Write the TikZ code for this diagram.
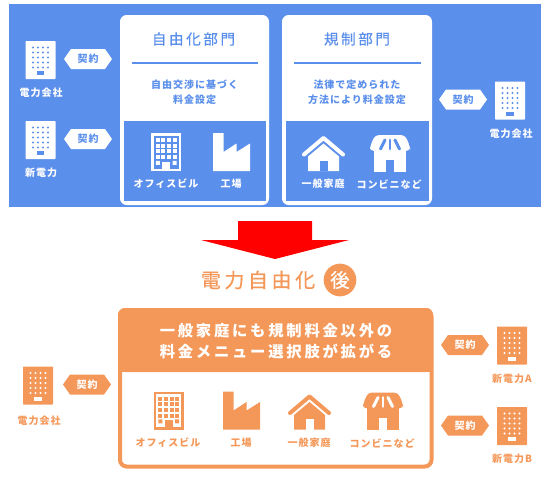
\documentclass[tikz,border=0pt]{standalone}
\usepackage{fontspec}
\setmainfont{Noto Sans CJK JP}
\usetikzlibrary{shapes.symbols}
\newfontfamily\jpsmall[LetterSpace=10]{Noto Sans CJK JP}
\newfontfamily\jpwide[LetterSpace=18]{Noto Sans CJK JP}
\newfontfamily\jpmedium[LetterSpace=18,FakeBold=.6]{Noto Sans CJK JP}
\definecolor{panelblue}{HTML}{5B8FEC}
\definecolor{panelorange}{HTML}{F4985A}
\tikzset{
  small label/.style={inner sep=0pt, align=center, font=\jpsmall\bfseries\fontsize{7.5}{11.2}\selectfont},
  card title/.style={inner sep=0pt, font=\jpmedium\fontsize{10.9}{14}\selectfont},
  big title/.style={inner sep=0pt, align=center, font=\jpwide\bfseries\fontsize{11.5}{15.8}\selectfont},
  badge/.style={signal, signal to=west and east, signal pointer angle=110, inner sep=0pt,
    minimum width=36pt, minimum height=15pt, font=\jpsmall\bfseries\fontsize{7.5}{9}\selectfont},
  pics/tower/.style 2 args={code={
    \fill[#1, rounded corners=.5pt] (-15,-19) rectangle (15,19);
    \foreach \ty in {-12.5,-7.5,-2.5,2.5,7.5}
      \foreach \tx in {-7.5,-2.5,2.5,7.5}
        \fill[#2] (\tx,\ty) circle (1.1);
    \fill[#2] (-3.7,11) rectangle (3.7,15);
  }},
  pics/office/.style 2 args={code={
    \fill[#1] (-15,-19) rectangle (15,19);
    \fill[#2] (-12.5,-16.5) rectangle (12.5,16.5);
    \foreach \ty in {-14,-8.3,-2.6,3.1}
      \foreach \tx in {-10.2,-4.6,1,6.6}
        \fill[#1] (\tx,\ty) rectangle +(4,4);
    \fill[#1] (-10.2,8.8) rectangle +(4,4) (6.6,8.8) rectangle +(4,4);
    \fill[#1] (-4,9.5) rectangle (4,16.5);
  }},
  pics/factory/.style={code={
    \fill[#1] (-18.5,-19) -- (-8,-19) -- (-8,0) -- (5,-8.5) -- (5,0) -- (18.5,-8.5)
      -- (18.5,19) -- (-18.5,19) -- cycle;
  }},
  pics/house/.style 2 args={code={
    \draw[#1, line width=3pt, line cap=round, line join=round] (-19.5,1) -- (0,-15.5) -- (19.5,1);
    \fill[#1] (0,-10) -- (-15.5,3) -- (-15.5,17.5) -- (15.5,17.5) -- (15.5,3) -- cycle;
    \fill[#2] (-4,7) rectangle (4,17.5);
  }},
  pics/shop/.style 2 args={code={
    \fill[#1, rounded corners=3pt] (-15,-18.5) -- (15,-18.5) -- (20,-7) -- (20,-2.5)
      -- (-20,-2.5) -- (-20,-7) -- cycle;
    \fill[#1] (-16,-4) rectangle (16,18.5);
    \foreach \tx in {-1,0,1}
      \draw[#2, line width=2.2pt, line cap=round] (5*\tx,-13.5) -- (9.5*\tx,-4.5);
    \fill[#2] (-4,6.5) rectangle (4,18.5);
  }},
}
\begin{document}
\begin{tikzpicture}[x=.75pt,y=-.75pt]
\useasboundingbox (0,0) rectangle (546,479);
% before
\fill[panelblue] (9,4) rectangle (541,207);
\foreach \cl/\cr in {120/269,282/432}{
  \fill[white, rounded corners=5pt] (\cl,15) rectangle (\cr,205);
  \fill[panelblue] (\cl+4,121) rectangle (\cr-3,201);
  \draw[panelblue, line width=.9pt] (\cl+12,63) -- (\cr-11,63);
}
\node[card title, text=panelblue] (freeTitle) at (193.5,39) {自由化部門};
\node[card title, text=panelblue] (ruleTitle) at (357,39) {規制部門};
\node[small label, text=panelblue] (freeText) at (194.5,92.5) {自由交渉に基づく\\料金設定};
\node[small label, text=panelblue] (ruleText) at (357,92.5) {法律で定められた\\方法により料金設定};
\pic (officeA) at (166,152) {office={white}{panelblue}};
\pic (factoryA) at (231.5,152) {factory=white};
\pic (houseA) at (323.5,153.5) {house={white}{panelblue}};
\pic (shopA) at (390,153.5) {shop={white}{panelblue}};
\node[small label, text=white] (officeLabelA) at (166,184) {オフィスビル};
\node[small label, text=white] (factoryLabelA) at (231,184) {工場};
\node[small label, text=white] (houseLabelA) at (323,184) {一般家庭};
\node[small label, text=white] (shopLabelA) at (389,184) {コンビニなど};
\pic (towerA) at (40.5,60) {tower={white}{panelblue}};
\pic (towerB) at (40.5,140) {tower={white}{panelblue}};
\pic (towerC) at (510,100.5) {tower={white}{panelblue}};
\node[small label, text=white] (towerLabelA) at (41,93) {電力会社};
\node[small label, text=white] (towerLabelB) at (41,173) {新電力};
\node[small label, text=white] (towerLabelC) at (511,134) {電力会社};
\node[badge, fill=white, text=panelblue] (dealA) at (88,59) {契約};
\node[badge, fill=white, text=panelblue] (dealB) at (88,139) {契約};
\node[badge, fill=white, text=panelblue] (dealC) at (463,99.5) {契約};
% arrow
\fill[red] (238,221) -- (312,221) -- (312,240) -- (349,240) -- (275,259) -- (201,240) -- (238,240) -- cycle;
% after
\node[inner sep=0pt, text=panelorange, font=\jpmedium\fontsize{15}{18}\selectfont] (afterTitle) at (258,280) {電力自由化};
\node[circle, fill=panelorange, text=white, inner sep=0pt, minimum size=24.5pt, font=\jpmedium\fontsize{14.5}{16}\selectfont] (afterMark) at (340,280) {後};
\draw[panelorange, line width=3pt, rounded corners=5pt] (120,310) rectangle (431.5,466.5);
\fill[panelorange, rounded corners=5pt] (118,308) -- (433,308) -- (433,372) -- (118,372) -- cycle;
\fill[panelorange] (118,360) rectangle (433,372);
\node[big title, text=white] (afterText) at (276,341.5) {一般家庭にも規制料金以外の\\料金メニュー選択肢が拡がる};
\pic (officeB) at (168.5,410.5) {office={panelorange}{white}};
\pic (factoryB) at (241.5,410.5) {factory=panelorange};
\pic (houseB) at (309.5,412) {house={panelorange}{white}};
\pic (shopB) at (383,411) {shop={panelorange}{white}};
\node[small label, text=panelorange] (officeLabelB) at (168,443) {オフィスビル};
\node[small label, text=panelorange] (factoryLabelB) at (241,443) {工場};
\node[small label, text=panelorange] (houseLabelB) at (309,443) {一般家庭};
\node[small label, text=panelorange] (shopLabelB) at (382,443) {コンビニなど};
\pic (towerD) at (38,385.5) {tower={panelorange}{white}};
\pic (towerE) at (512,345.5) {tower={panelorange}{white}};
\pic (towerF) at (512,426) {tower={panelorange}{white}};
\node[small label, text=panelorange] (towerLabelD) at (39,421) {電力会社};
\node[small label, text=panelorange] (towerLabelE) at (512,379) {新電力A};
\node[small label, text=panelorange] (towerLabelF) at (512,459) {新電力B};
\node[badge, fill=panelorange, text=white] (dealD) at (87,384.5) {契約};
\node[badge, fill=panelorange, text=white] (dealE) at (465,345) {契約};
\node[badge, fill=panelorange, text=white] (dealF) at (465,425.5) {契約};
\end{tikzpicture}
\end{document}
